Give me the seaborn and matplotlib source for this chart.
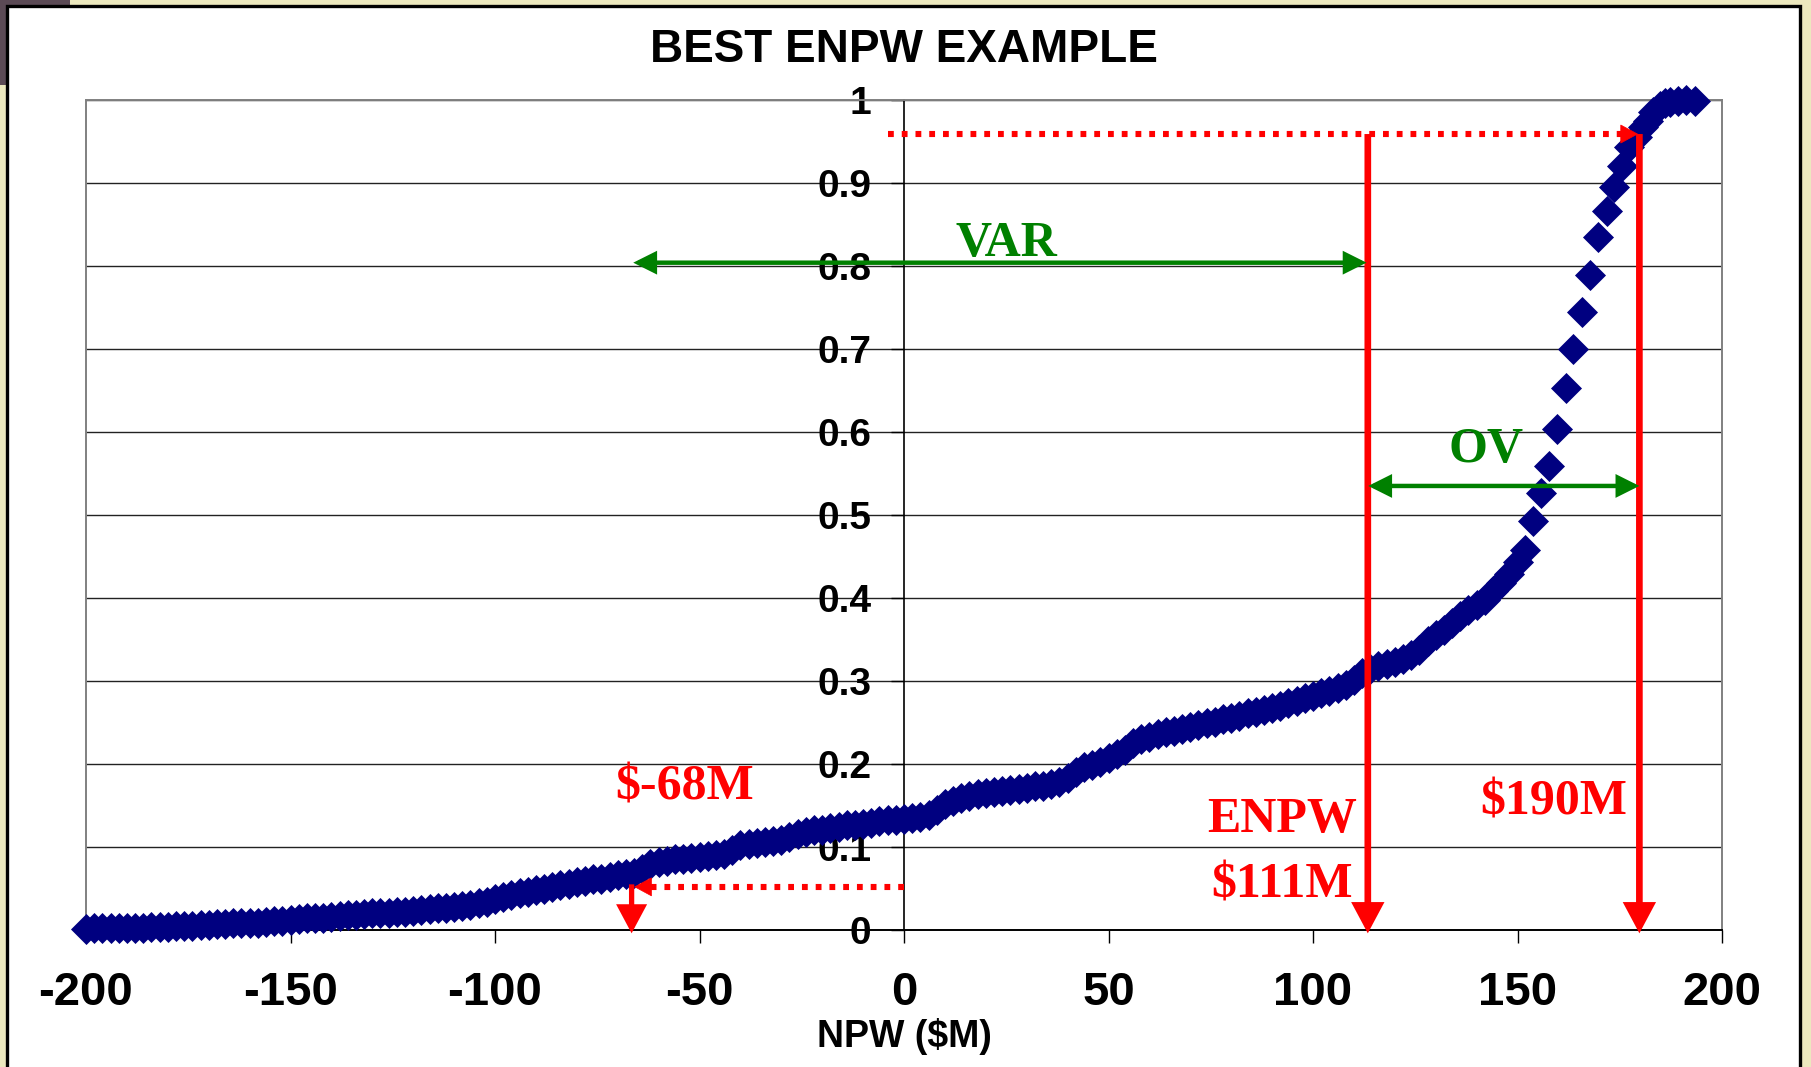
import matplotlib
matplotlib.use("Agg")
import matplotlib.pyplot as plt
from matplotlib.patches import FancyArrowPatch, Rectangle
from matplotlib.lines import Line2D
import seaborn as sns

# ---------------- data ----------------
npw = [-200, -198, -196, -194, -192, -190, -188, -186, -184, -182, -180, -178, -176, -174, -172,
       -170, -168, -166, -164, -162, -160, -158, -156, -154, -152, -150, -148, -146, -144, -142,
       -140, -138, -136, -134, -132, -130, -128, -126, -124, -122, -120, -118, -116, -114, -112,
       -110, -108, -106, -104, -102, -100, -98, -96, -94, -92, -90, -88, -86, -84, -82,
       -80, -78, -76, -74, -72, -70, -68, -66, -64, -62, -60, -58, -56, -54, -52,
       -50, -48, -46, -44, -42, -40, -38, -36, -34, -32, -30, -28, -26, -24, -22,
       -20, -18, -16, -14, -12, -10, -8, -6, -4, -2, 0, 2, 4, 6, 8,
       10, 12, 14, 16, 18, 20, 22, 24, 26, 28, 30, 32, 34, 36, 38,
       40, 42, 44, 46, 48, 50, 52, 54, 56, 58, 60, 62, 64, 66, 68,
       70, 72, 74, 76, 78, 80, 82, 84, 86, 88, 90, 92, 94, 96, 98,
       100, 102, 104, 106, 108, 110, 112, 114, 116, 118, 120, 122, 124, 126, 128,
       130, 132, 134, 136, 138, 140, 142, 144, 146, 148, 150,
       151.8, 153.7, 155.7, 157.7, 159.7, 161.8, 163.6, 165.7, 167.7, 169.7,
       171.8, 173.7, 175.6, 177.3, 179.3, 180.8, 182.0, 183.2, 184.8, 186.0,
       187.3, 189.3, 191.3, 193.4]
cum_prob = [0.001, 0.002, 0.002, 0.002, 0.003, 0.003, 0.003, 0.003, 0.004, 0.004, 0.004, 0.005, 0.005, 0.005, 0.006,
            0.006, 0.007, 0.007, 0.008, 0.008, 0.009, 0.009, 0.010, 0.011, 0.011, 0.012, 0.013, 0.014, 0.015, 0.015,
            0.016, 0.017, 0.018, 0.018, 0.019, 0.020, 0.020, 0.021, 0.022, 0.022, 0.023, 0.024, 0.025, 0.026, 0.027,
            0.028, 0.029, 0.030, 0.032, 0.034, 0.037, 0.040, 0.042, 0.044, 0.046, 0.048, 0.050, 0.052, 0.054, 0.056,
            0.058, 0.059, 0.061, 0.062, 0.064, 0.066, 0.067, 0.069, 0.074, 0.079, 0.082, 0.083, 0.085, 0.086, 0.087,
            0.088, 0.089, 0.090, 0.092, 0.096, 0.102, 0.104, 0.105, 0.106, 0.107, 0.108, 0.112, 0.116, 0.118, 0.120,
            0.121, 0.123, 0.124, 0.126, 0.127, 0.128, 0.129, 0.131, 0.132, 0.133, 0.134, 0.135, 0.136, 0.138, 0.145,
            0.152, 0.156, 0.159, 0.162, 0.164, 0.165, 0.166, 0.167, 0.169, 0.170, 0.171, 0.173, 0.174, 0.176, 0.178,
            0.183, 0.190, 0.196, 0.199, 0.203, 0.207, 0.212, 0.217, 0.225, 0.230, 0.233, 0.236, 0.238, 0.240, 0.242,
            0.244, 0.247, 0.249, 0.251, 0.254, 0.256, 0.258, 0.261, 0.263, 0.265, 0.268, 0.270, 0.273, 0.276, 0.279,
            0.282, 0.285, 0.288, 0.291, 0.295, 0.301, 0.310, 0.315, 0.318, 0.320, 0.323, 0.327, 0.331, 0.337, 0.348,
            0.356, 0.362, 0.370, 0.378, 0.385, 0.392, 0.398, 0.409, 0.418, 0.429, 0.443,
            0.458, 0.493, 0.526, 0.559, 0.604, 0.653, 0.700, 0.745, 0.789, 0.835,
            0.866, 0.895, 0.921, 0.943, 0.955, 0.967, 0.975, 0.985, 0.993, 0.996,
            0.997, 0.999, 1.000, 0.999]

x_ticks = [-200, -150, -100, -50, 0, 50, 100, 150, 200]
x_tick_labels = ["-200", "-150", "-100", "-50", "0", "50", "100", "150", "200"]
y_ticks = [0, 0.1, 0.2, 0.3, 0.4, 0.5, 0.6, 0.7, 0.8, 0.9, 1.0]
y_tick_labels = ["0", "0.1", "0.2", "0.3", "0.4", "0.5", "0.6", "0.7", "0.8", "0.9", "1"]

title_text = "BEST ENPW EXAMPLE"
x_label = "NPW ($M)"

# annotation values
enpw_x = 113.4        # ENPW marker line
upper_x = 179.8       # upper-percentile marker line
upper_p = 0.959
lower_x = -66.6       # lower (VAR) marker
lower_p = 0.052
var_p = 0.804
ov_p = 0.535
label_low = "$-68M"
label_enpw = "ENPW"
label_enpw_val = "$111M"
label_up = "$190M"
label_var = "VAR"
label_ov = "OV"

# ---------------- figure ----------------
sns.set_style("white")
plt.rcParams['font.family'] = ['Liberation Sans', 'DejaVu Sans']
plt.rcParams['axes.unicode_minus'] = False
for k in ['text.color', 'axes.labelcolor', 'xtick.color', 'ytick.color']:
    plt.rcParams[k] = 'black'

W, H = 1811, 1067
fig = plt.figure(figsize=(W / 100, H / 100), dpi=100)
fig.patch.set_facecolor('#ECE8BE')
fig.add_artist(Rectangle((0, 1 - 85 / H), 7 / W, 85 / H, transform=fig.transFigure,
                         facecolor='#5b4a55', edgecolor='none', zorder=-3))
fig.add_artist(Rectangle((0, 1 - 6 / H), 70 / W, 6 / H, transform=fig.transFigure,
                         facecolor='#5b4a55', edgecolor='none', zorder=-3))
fig.add_artist(Rectangle((7 / W, -0.02), (1800 - 7) / W, 1 - 6 / H + 0.02, transform=fig.transFigure,
                         facecolor='white', edgecolor='black', linewidth=2.4, zorder=-2))

ax = fig.add_axes([86 / W, 1 - 930 / H, 1636 / W, 830 / H])
ax.set_facecolor('white')

sns.scatterplot(x=npw, y=cum_prob, marker='D', s=250, color='#000080', linewidth=0,
                ax=ax, zorder=3, clip_on=False, legend=False)

ax.set_xlim(-200, 200)
ax.set_ylim(0, 1)

# spines / frame
ax.spines['left'].set_position(('data', 0))
ax.spines['left'].set_color('black')
ax.spines['left'].set_linewidth(1.2)
ax.spines['bottom'].set_color('black')
ax.spines['bottom'].set_linewidth(1.4)
for s in ['top', 'right']:
    ax.spines[s].set_visible(True)
    ax.spines[s].set_color('#808080')
    ax.spines[s].set_linewidth(1.4)
ax.add_line(Line2D([-200, -200], [0, 1], color='#808080', lw=1.4, clip_on=False, zorder=2))

ax.set_xticks(x_ticks, labels=x_tick_labels)
ax.set_yticks(y_ticks, labels=y_tick_labels)
ax.tick_params(axis='x', bottom=True, direction='out', length=9.4, width=1.0, color='black',
               pad=20, labelsize=34, labelcolor='black')
ax.tick_params(axis='y', left=True, direction='out', length=9.4, width=1.0, color='black',
               pad=14, labelsize=28, labelcolor='black')
for lab in ax.get_xticklabels() + ax.get_yticklabels():
    lab.set_fontweight('bold')
ax.yaxis.grid(True, color='#222222', linewidth=1.0)
ax.xaxis.grid(False)
ax.set_axisbelow(True)

fig.text(904 / W, 1 - 50 / H, title_text, ha='center', va='center', fontsize=33,
         fontweight='bold', color='black')
ax.set_xlabel(x_label, fontsize=27, fontweight='bold', color='black')
ax.xaxis.label.set_va('center')
ax.xaxis.set_label_coords(0.5, -0.128)


def arrow(p0, p1, color, lw, style, hl, hw, z=6):
    a = FancyArrowPatch(p0, p1, arrowstyle=f'{style},head_length={hl},head_width={hw}',
                        mutation_scale=1, color=color, lw=lw, shrinkA=0, shrinkB=0,
                        zorder=z, clip_on=False, capstyle='butt', joinstyle='miter')
    ax.add_patch(a)


red = '#FF0000'
green = '#008000'
dots = (0, (0.95, 1.3))

# dotted horizontal red lines
ax.plot([-4, upper_x - 4.5], [upper_p, upper_p], color=red, lw=4.4, linestyle=dots,
        dash_capstyle='butt', zorder=5, clip_on=False)
arrow((upper_x - 5.0, upper_p), (upper_x - 0.3, upper_p), red, 0.5, '-|>', 12, 6.5)
ax.plot([0, lower_x + 4.8], [lower_p, lower_p], color=red, lw=4.4, linestyle=dots,
        dash_capstyle='butt', zorder=5, clip_on=False)
arrow((lower_x + 5.3, lower_p), (lower_x + 0.6, lower_p), red, 0.5, '-|>', 12, 6.5)

# vertical red arrows
arrow((enpw_x, upper_p), (enpw_x, -0.004), red, 4.8, '-|>', 15, 8)
arrow((upper_x, upper_p), (upper_x, -0.004), red, 4.8, '-|>', 15, 8)
arrow((lower_x, lower_p + 0.003), (lower_x, -0.004), red, 3.8, '-|>', 15, 8)

# green double arrows
arrow((lower_x + 0.4, var_p), (enpw_x - 0.3, var_p), green, 3.2, '<|-|>', 12, 6)
arrow((enpw_x + 0.1, ov_p), (upper_x, ov_p), green, 3.2, '<|-|>', 12, 6)

serif = ['Liberation Serif', 'DejaVu Serif']
kw = dict(fontsize=36, fontweight='bold', family=serif, ha='center', va='center', zorder=7)
ax.text(-53.6, 0.172, label_low, color=red, **kw)
ax.text(92.5, 0.132, label_enpw, color=red, **kw)
ax.text(92.5, 0.054, label_enpw_val, color=red, **kw)
ax.text(158.8, 0.154, label_up, color=red, **kw)
ax.text(25.1, 0.826, label_var, color=green, **kw)
ax.text(142.4, 0.578, label_ov, color=green, **kw)

fig.savefig('out.png', dpi=100, facecolor=fig.get_facecolor())
